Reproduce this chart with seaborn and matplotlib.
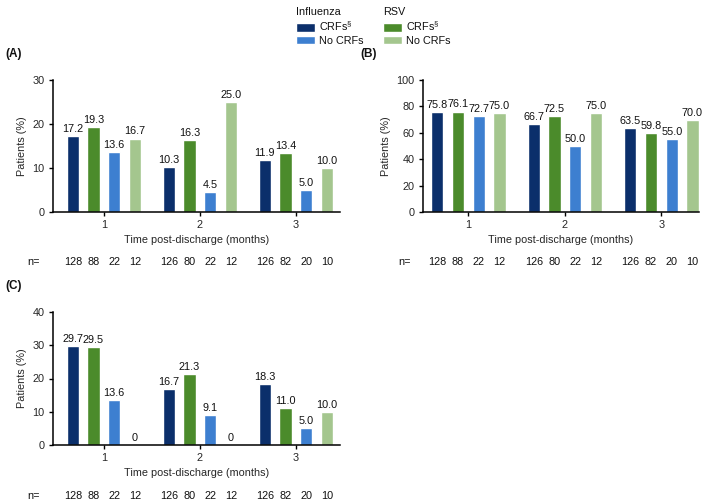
import seaborn as sns
import matplotlib.pyplot as plt
import pandas as pd
from matplotlib.transforms import blended_transform_factory

# data
months = ["1", "2", "3"]
groups = ["Influenza CRFs", "RSV CRFs", "Influenza No CRFs", "RSV No CRFs"]

a_flu_crf = [17.2, 10.3, 11.9]
a_rsv_crf = [19.3, 16.3, 13.4]
a_flu_no = [13.6, 4.5, 5.0]
a_rsv_no = [16.7, 25.0, 10.0]

b_flu_crf = [75.8, 66.7, 63.5]
b_rsv_crf = [76.1, 72.5, 59.8]
b_flu_no = [72.7, 50.0, 55.0]
b_rsv_no = [75.0, 75.0, 70.0]

c_flu_crf = [29.7, 16.7, 18.3]
c_rsv_crf = [29.5, 21.3, 11.0]
c_flu_no = [13.6, 9.1, 5.0]
c_rsv_no = [0, 0, 10.0]

n_flu_crf = [128, 126, 126]
n_rsv_crf = [88, 80, 82]
n_flu_no = [22, 22, 20]
n_rsv_no = [12, 12, 10]

colors = ["#0b2f6b", "#4b8b2b", "#3d7fd0", "#a4c68e"]

sns.set_style("ticks")
plt.rcParams["font.family"] = ["Liberation Sans", "DejaVu Sans"]
plt.rcParams["mathtext.fontset"] = "custom"
plt.rcParams["mathtext.rm"] = "Liberation Sans"
plt.rcParams["text.color"] = "#111111"
FS = 7.8


def make_df(vals):
    rows = []
    for g, v in zip(groups, vals):
        for m, x in zip(months, v):
            rows.append({"month": m, "group": g, "value": x})
    return pd.DataFrame(rows)


W, H = 709, 501
fig = plt.figure(figsize=(W / 100, H / 100), dpi=100)


def px_axes(left, top, right, bottom):
    return fig.add_axes([left / W, 1 - bottom / H, (right - left) / W, (bottom - top) / H])


panels = [
    ("(A)", px_axes(53, 80, 340, 212), [a_flu_crf, a_rsv_crf, a_flu_no, a_rsv_no], 30, 10, (-0.53, 2.46)),
    ("(B)", px_axes(423, 80, 699, 212), [b_flu_crf, b_rsv_crf, b_flu_no, b_rsv_no], 100, 20, (-0.47, 2.39)),
    ("(C)", px_axes(53, 312, 340, 445), [c_flu_crf, c_rsv_crf, c_flu_no, c_rsv_no], 40, 10, (-0.53, 2.46)),
]
n_vals = [n_flu_crf, n_rsv_crf, n_flu_no, n_rsv_no]

for title, ax, vals, ymax, step, xlim in panels:
    df = make_df(vals)
    sns.barplot(data=df, x="month", y="value", hue="group", hue_order=groups,
                palette=colors, width=0.86, gap=0.4, ax=ax, legend=False,
                saturation=1)
    ax.set_ylim(0, ymax)
    ax.set_yticks(range(0, ymax + 1, step))
    ax.set_xlim(*xlim)
    ax.set_ylabel("Patients (%)", fontsize=FS, labelpad=4)
    ax.set_xlabel("Time post-discharge (months)", fontsize=FS, labelpad=3)
    ax.tick_params(axis="both", labelsize=FS, length=3, width=1, pad=3, color="black")
    sns.despine(ax=ax)
    for sp in ["left", "bottom"]:
        ax.spines[sp].set_linewidth(1.1)
        ax.spines[sp].set_color("black")

    tr = blended_transform_factory(ax.transData, ax.transAxes)
    for cont, v, nv in zip(ax.containers, vals, n_vals):
        labels = [f"{x:.1f}" if x else "0" for x in v]
        ax.bar_label(cont, labels=labels, padding=1.5, fontsize=FS)
        for bar, n in zip(cont, nv):
            cx = bar.get_x() + bar.get_width() / 2
            ax.text(cx, -0.38, str(n), transform=tr, ha="center", va="center", fontsize=FS)
    ax.text(-0.045, -0.38, "n=", transform=ax.transAxes, ha="right", va="center", fontsize=FS)

    pos = ax.get_position()
    fig.text(pos.x0 - 48 / W if title != "(B)" else 360 / W,
             pos.y1 + 26 / H, title, fontweight="bold", fontsize=8.5,
             ha="left", va="center")

# legend built from the bars of panel A
handles = panels[0][1].containers
leg_kw = dict(loc="upper left", frameon=False, fontsize=FS, title_fontsize=FS,
              handlelength=1.7, handleheight=0.8, handletextpad=0.4,
              labelspacing=0.2, borderpad=0.0, alignment="left")
fig.legend([handles[0][0], handles[2][0]], [r"CRFs$^\S$", "No CRFs"],
           title="Influenza", bbox_to_anchor=(291 / W, 1 - 2 / H), **leg_kw)
fig.legend([handles[1][0], handles[3][0]], [r"CRFs$^\S$", "No CRFs"],
           title="RSV", bbox_to_anchor=(378 / W, 1 - 2 / H), **leg_kw)

fig.savefig("out.png", dpi=100)
